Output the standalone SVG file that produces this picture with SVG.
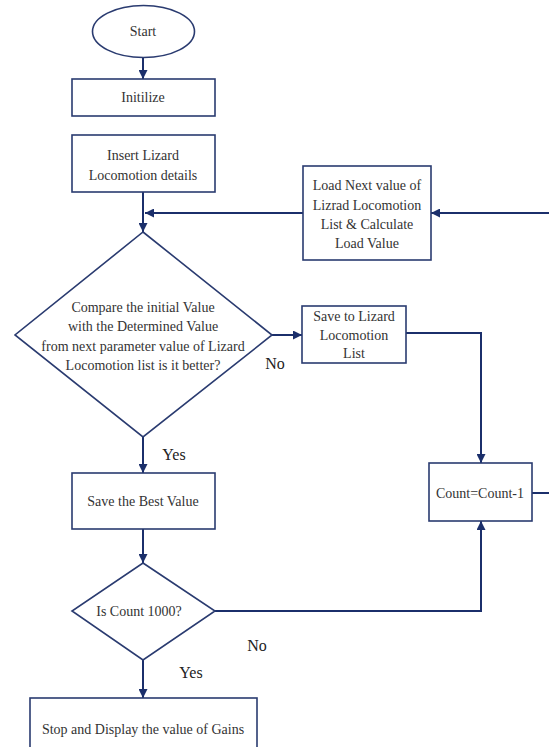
<svg xmlns="http://www.w3.org/2000/svg" width="549" height="747" viewBox="0 0 549 747">
<defs>
<marker id="ah" viewBox="0 0 10 10" refX="10" refY="5" markerWidth="9" markerHeight="9" markerUnits="userSpaceOnUse" orient="auto">
<path d="M0,0 L10,5 L0,10 z" fill="#1b2f6b"/>
</marker>
<style>
.shape{fill:#fff;stroke:#2a3b70;stroke-width:1.6}
.t{font-family:'Liberation Serif','DejaVu Serif','Times New Roman',serif;font-size:14px;fill:#333;text-anchor:middle}
.lbl{font-family:'Liberation Serif','DejaVu Serif','Times New Roman',serif;font-size:16px;fill:#222;text-anchor:middle}
.c{fill:none;stroke:#1b2f6b;stroke-width:2}
.ca{fill:none;stroke:#1b2f6b;stroke-width:2;marker-end:url(#ah)}
</style>
</defs>
<rect width="549" height="747" fill="#fff"/>
<g id="connectors">
<path class="ca" d="M143,58 V79"/>
<path class="ca" d="M143,192 V232"/>
<path class="ca" d="M303,213 H145"/>
<path class="ca" d="M550,213 H431"/>
<path class="ca" d="M272,335 H302"/>
<path class="ca" d="M406,333 H481 V463"/>
<path class="c" d="M532,493 H550"/>
<path class="ca" d="M143,437 V473"/>
<path class="ca" d="M143,529 V563"/>
<path class="ca" d="M215,611 H481 V521"/>
<path class="ca" d="M143,660 V698"/>
</g>
<g id="start">
<ellipse class="shape" cx="143.5" cy="31.5" rx="51" ry="26"/>
<text class="t" x="143" y="36">Start</text>
</g>
<g id="init">
<rect class="shape" x="72" y="79" width="143" height="37"/>
<text class="t" x="143" y="102">Initilize</text>
</g>
<g id="insert">
<rect class="shape" x="72" y="135" width="143" height="57"/>
<text class="t" x="143" y="160">Insert  Lizard</text>
<text class="t" x="143" y="180">Locomotion details</text>
</g>
<g id="load">
<rect class="shape" x="303" y="166" width="128" height="94"/>
<text class="t" x="367" y="190">Load Next value of</text>
<text class="t" x="367" y="210">Lizrad Locomotion</text>
<text class="t" x="367" y="229">List &amp; Calculate</text>
<text class="t" x="367" y="248">Load Value</text>
</g>
<g id="compare">
<polygon class="shape" points="143,232 272,335 143,437 15,335"/>
<text class="t" x="143" y="312">Compare the initial Value</text>
<text class="t" x="143" y="331">with the Determined Value</text>
<text class="t" x="143" y="351">from next parameter value of Lizard</text>
<text class="t" x="143" y="370">Locomotion list is it better?</text>
</g>
<text class="lbl" x="275" y="369">No</text>
<text class="lbl" x="174" y="460">Yes</text>
<g id="savelist">
<rect class="shape" x="302" y="306" width="104" height="57"/>
<text class="t" x="354" y="321">Save to Lizard</text>
<text class="t" x="354" y="340">Locomotion</text>
<text class="t" x="354" y="358">List</text>
</g>
<g id="count">
<rect class="shape" x="429" y="463" width="103" height="58"/>
<text class="t" x="480" y="498">Count=Count-1</text>
</g>
<g id="savebest">
<rect class="shape" x="72" y="473" width="143" height="56"/>
<text class="t" x="143" y="506">Save the Best Value</text>
</g>
<g id="iscount">
<polygon class="shape" points="143,563 215,611 143,660 72,611"/>
<text class="t" x="139" y="616">Is Count 1000?</text>
</g>
<text class="lbl" x="257" y="651">No</text>
<text class="lbl" x="191" y="678">Yes</text>
<g id="stop">
<rect class="shape" x="30" y="698" width="227" height="60"/>
<text class="t" x="143" y="734">Stop and Display the value of Gains</text>
</g>
</svg>
